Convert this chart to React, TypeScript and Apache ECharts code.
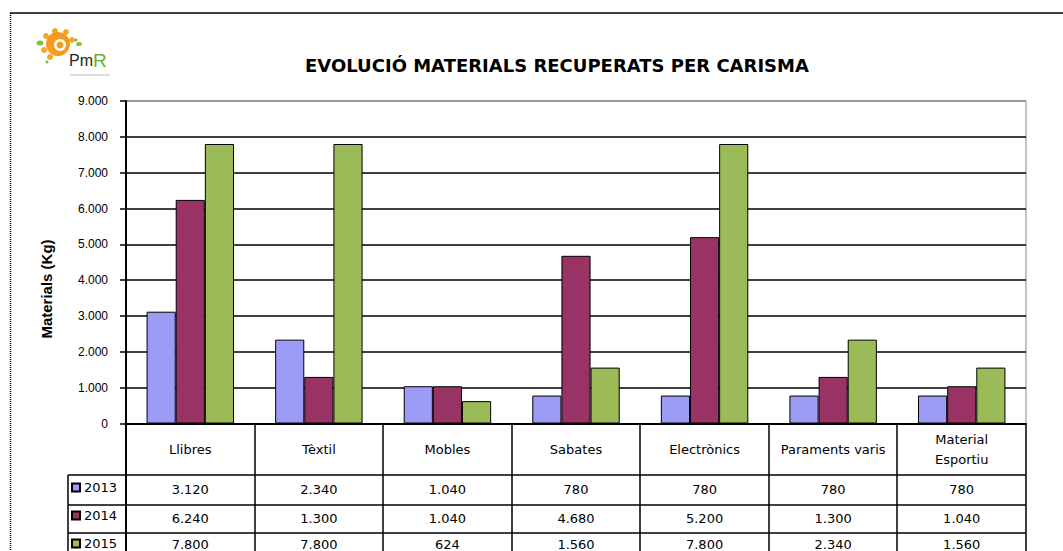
import React, { useEffect, useRef } from "react";
import * as echarts from "echarts";

const categories = ["Llibres", "Tèxtil", "Mobles", "Sabates", "Electrònics", "Paraments varis", "Material\nEsportiu"];
const years = ["2013", "2014", "2015"];
const values2013 = [3120, 2340, 1040, 780, 780, 780, 780];
const values2014 = [6240, 1300, 1040, 4680, 5200, 1300, 1040];
const values2015 = [7800, 7800, 624, 1560, 7800, 2340, 1560];
const seriesValues = [values2013, values2014, values2015];
const colors = ["#9C9CF6", "#993366", "#9BBB59"];

const fmt = (n: number) =>
  n >= 1000 ? Math.floor(n / 1000) + "." + String(n % 1000).padStart(3, "0") : String(n);

const FONT = "'Liberation Sans', Arial, sans-serif";
const TFONT = "'DejaVu Sans', sans-serif";

export default function App() {
  const ref = useRef<HTMLDivElement>(null);
  useEffect(() => {
    if (!ref.current) return;
    const chart = echarts.init(ref.current, undefined, { renderer: "svg" });
    const gl = 126, gt = 101, gw = 900, gh = 323;
    const gb = gt + gh;
    const cw = gw / categories.length;
    const rowLines = [475, 505, 533];
    const tableBottom = 560;
    const lines: any[] = [];
    rowLines.forEach((y) =>
      lines.push({ type: "line", shape: { x1: 68, y1: y, x2: gl + gw, y2: y }, style: { stroke: "#000", lineWidth: 1.5 } })
    );
    lines.push({ type: "line", shape: { x1: 68, y1: 475, x2: 68, y2: tableBottom }, style: { stroke: "#000", lineWidth: 1.5 } });
    lines.push({ type: "line", shape: { x1: gl, y1: gb, x2: gl, y2: tableBottom }, style: { stroke: "#000", lineWidth: 2 } });
    for (let k = 1; k <= categories.length; k++) {
      const x = Math.round(gl + cw * k);
      lines.push({ type: "line", shape: { x1: x, y1: gb, x2: x, y2: tableBottom }, style: { stroke: "#000", lineWidth: 1.5 } });
    }
    const rowMargins = [66, 95, 121];
    const extraX = seriesValues.map((vals, i) => ({
      type: "category",
      gridIndex: 0,
      position: "bottom",
      data: vals.map(fmt),
      axisLine: { show: false },
      axisTick: { show: false },
      splitLine: { show: false },
      axisLabel: {
        interval: 0,
        margin: rowMargins[i],
        verticalAlign: "middle",
        fontSize: 13,
        color: "#000",
        fontFamily: TFONT,
      },
    }));
    const splitColors = Array.from({ length: 10 }, (_, i) => (i === 9 ? "#8a8a8a" : "#000"));
    chart.setOption({
      animation: false,
      backgroundColor: "#fff",
      grid: { left: gl, top: gt, width: gw, height: gh, show: true, borderColor: "#8a8a8a", borderWidth: 1 },
      legend: {
        data: years,
        orient: "vertical",
        left: 71,
        top: 481,
        padding: 0,
        itemWidth: 8,
        itemHeight: 8,
        itemGap: 15,
        icon: "rect",
        textStyle: { fontSize: 13, color: "#000", fontFamily: TFONT, padding: [0, 0, 0, -1] },
      },
      xAxis: [
        {
          type: "category",
          data: categories,
          position: "bottom",
          axisLine: { show: true, lineStyle: { color: "#000", width: 2 } },
          axisTick: { show: false },
          splitLine: { show: false },
          axisLabel: {
            interval: 0,
            margin: 26,
            verticalAlign: "middle",
            lineHeight: 20,
            fontSize: 13,
            color: "#000",
            fontFamily: TFONT,
          },
        },
        ...extraX,
      ],
      yAxis: {
        type: "value",
        min: 0,
        max: 9000,
        interval: 1000,
        axisLine: { show: true, lineStyle: { color: "#000", width: 2 } },
        axisTick: { show: true, length: 6, lineStyle: { color: "#000", width: 1.5 } },
        axisLabel: { margin: 18, fontSize: 12, color: "#000", fontFamily: FONT, formatter: (v: number) => fmt(v) },
        splitLine: { show: true, lineStyle: { color: splitColors, width: 1.5 } },
      },
      series: years.map((y, i) => ({
        name: y,
        type: "bar",
        xAxisIndex: 0,
        data: seriesValues[i],
        barGap: "0%",
        barCategoryGap: "32%",
        itemStyle: { color: colors[i], borderColor: "#000", borderWidth: 1 },
      })),
      graphic: [
        { type: "line", shape: { x1: 10, y1: 13, x2: 1070, y2: 13 }, style: { stroke: "#000", lineWidth: 1.5 } },
        { type: "line", shape: { x1: 10.5, y1: 13, x2: 10.5, y2: 560 }, style: { stroke: "#000", lineWidth: 1.5, lineDash: [1, 1] } },
        {
          type: "text",
          x: 557,
          y: 65,
          style: {
            text: "EVOLUCIÓ MATERIALS RECUPERATS PER CARISMA",
            fill: "#000",
            font: "bold 18px 'DejaVu Sans', sans-serif",
            textAlign: "center",
            textVerticalAlign: "middle",
          },
        },
        {
          type: "text",
          x: 46,
          y: 289,
          rotation: Math.PI / 2,
          style: {
            text: "Materials (Kg)",
            fill: "#000",
            font: "bold 15px 'Liberation Sans', Arial, sans-serif",
            textAlign: "center",
            textVerticalAlign: "middle",
          },
        },
        // logo
        { type: "circle", shape: { cx: 46, cy: 36, r: 3 }, style: { fill: "#F5A623" } },
        { type: "circle", shape: { cx: 55, cy: 31, r: 3 }, style: { fill: "#F5A623" } },
        { type: "circle", shape: { cx: 66, cy: 32, r: 3 }, style: { fill: "#F5A623" } },
        { type: "circle", shape: { cx: 72, cy: 40, r: 3 }, style: { fill: "#F5A623" } },
        { type: "circle", shape: { cx: 44, cy: 50, r: 3 }, style: { fill: "#F5A623" } },
        { type: "circle", shape: { cx: 50, cy: 57, r: 3 }, style: { fill: "#F5A623" } },
        { type: "circle", shape: { cx: 58, cy: 44, r: 12 }, style: { fill: "#F39B1E" } },
        { type: "ring", shape: { cx: 60, cy: 45, r: 6, r0: 3.5 }, style: { fill: "#fff" } },
        { type: "circle", shape: { cx: 60, cy: 45, r: 2 }, style: { fill: "#F39B1E" } },
        { type: "ellipse", shape: { cx: 40, cy: 43, rx: 3.5, ry: 2.5 }, style: { fill: "#7DBF3A" } },
        { type: "ellipse", shape: { cx: 79, cy: 44, rx: 3, ry: 2 }, style: { fill: "#7DBF3A" } },
        { type: "circle", shape: { cx: 76, cy: 40, r: 1.5 }, style: { fill: "#7DBF3A" } },
        { type: "circle", shape: { cx: 47, cy: 62, r: 1.5 }, style: { fill: "#7DBF3A" } },
        {
          type: "text",
          x: 69,
          y: 70,
          style: {
            text: "{a|Pm}{b|R}",
            textVerticalAlign: "bottom",
            rich: {
              a: { fontSize: 16, fill: "#222", fontFamily: FONT },
              b: { fontSize: 19, fill: "#6AAF2E", fontFamily: FONT },
            },
          },
        },
        { type: "line", shape: { x1: 70, y1: 75, x2: 110, y2: 75 }, style: { stroke: "#bbb", lineWidth: 1 } },
        ...lines,
      ],
    });
    return () => chart.dispose();
  }, []);
  return <div ref={ref} style={{ position: "absolute", left: 0, top: 0, width: 1063, height: 551 }} />;
}
